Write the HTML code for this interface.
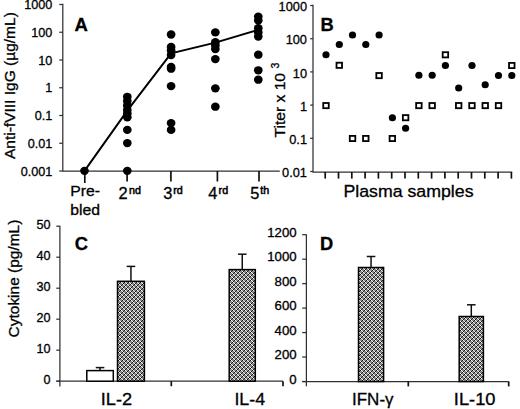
<!DOCTYPE html>
<html><head><meta charset="utf-8">
<style>
html,body{margin:0;padding:0;background:#fff;}
svg{display:block;}
text{font-family:"Liberation Sans",sans-serif;fill:#000;stroke:#000;stroke-width:0.3px;}
.ax{stroke:#303030;stroke-width:1.25;}
.tick{stroke:#111;stroke-width:1.7;}
.eb{stroke:#111;stroke-width:1.5;}
.sup{stroke-width:0.5px;}
</style></head><body>
<svg width="520" height="409" viewBox="0 0 520 409">
<defs>
<pattern id="hatch" x="0" y="1" width="4" height="4" patternUnits="userSpaceOnUse">
<rect width="4" height="4" fill="#8a8a8a"/>
<path d="M0 0h1v1h-1zM1 1h1v1h-1zM2 2h1v1h-1zM3 3h1v1h-1z" fill="#f6f6f6"/>
<path d="M1 0h1v1h-1zM0 1h1v1h-1zM3 2h1v1h-1zM2 3h1v1h-1z" fill="#141414"/>
</pattern>
</defs>
<line x1="62.8" y1="3.8" x2="62.8" y2="171.5" class="ax"/>
<line x1="59.3" y1="4.50" x2="62.8" y2="4.50" class="ax"/>
<text class="t" transform="translate(52.4,9.0) scale(1.02,1.0)" font-size="12.4" text-anchor="end">1000</text>
<line x1="59.3" y1="32.25" x2="62.8" y2="32.25" class="ax"/>
<text class="t" transform="translate(52.4,36.75) scale(1.02,1.0)" font-size="12.4" text-anchor="end">100</text>
<line x1="59.3" y1="60.00" x2="62.8" y2="60.00" class="ax"/>
<text class="t" transform="translate(52.4,64.5) scale(1.02,1.0)" font-size="12.4" text-anchor="end">10</text>
<line x1="59.3" y1="87.75" x2="62.8" y2="87.75" class="ax"/>
<text class="t" transform="translate(52.4,92.25) scale(1.02,1.0)" font-size="12.4" text-anchor="end">1</text>
<line x1="59.3" y1="115.50" x2="62.8" y2="115.50" class="ax"/>
<text class="t" transform="translate(52.4,120.0) scale(1.02,1.0)" font-size="12.4" text-anchor="end">0.1</text>
<line x1="59.3" y1="143.25" x2="62.8" y2="143.25" class="ax"/>
<text class="t" transform="translate(52.4,147.75) scale(1.02,1.0)" font-size="12.4" text-anchor="end">0.01</text>
<line x1="59.3" y1="171.00" x2="62.8" y2="171.00" class="ax"/>
<text class="t" transform="translate(52.4,175.5) scale(1.02,1.0)" font-size="12.4" text-anchor="end">0.001</text>
<line x1="62.8" y1="171.0" x2="279.8" y2="171.0" class="ax"/>
<line x1="84.8" y1="171.0" x2="84.8" y2="183" class="tick"/>
<line x1="127.1" y1="171.0" x2="127.1" y2="181.5" class="tick"/>
<line x1="170.9" y1="171.0" x2="170.9" y2="181.5" class="tick"/>
<line x1="217.4" y1="171.0" x2="217.4" y2="181.5" class="tick"/>
<line x1="259.0" y1="171.0" x2="259.0" y2="181.5" class="tick"/>
<polyline fill="none" stroke="#000" stroke-width="2" points="84.5,170.85 127.3,110.7 171.1,53.3 215.35,42.6 258.3,29.9"/>
<ellipse cx="84.5" cy="170.85" rx="4.35" ry="4.15"/>
<ellipse cx="127.3" cy="96.8" rx="4.35" ry="4.15"/>
<ellipse cx="127.3" cy="101" rx="4.35" ry="4.15"/>
<ellipse cx="127.3" cy="105.5" rx="4.35" ry="4.15"/>
<ellipse cx="127.3" cy="110" rx="4.35" ry="4.15"/>
<ellipse cx="127.3" cy="113.5" rx="4.35" ry="4.15"/>
<ellipse cx="127.3" cy="117.3" rx="4.35" ry="4.15"/>
<ellipse cx="127.3" cy="129.9" rx="4.35" ry="4.15"/>
<ellipse cx="127.3" cy="143.1" rx="4.35" ry="4.15"/>
<ellipse cx="127.3" cy="170.85" rx="4.35" ry="4.15"/>
<ellipse cx="171.1" cy="34.5" rx="4.35" ry="4.15"/>
<ellipse cx="171.1" cy="46.9" rx="4.35" ry="4.15"/>
<ellipse cx="171.1" cy="50.5" rx="4.35" ry="4.15"/>
<ellipse cx="171.1" cy="55" rx="4.35" ry="4.15"/>
<ellipse cx="171.1" cy="66.9" rx="4.35" ry="4.15"/>
<ellipse cx="171.1" cy="68.7" rx="4.35" ry="4.15"/>
<ellipse cx="171.1" cy="86.1" rx="4.35" ry="4.15"/>
<ellipse cx="171.1" cy="123.1" rx="4.35" ry="4.15"/>
<ellipse cx="171.1" cy="129.9" rx="4.35" ry="4.15"/>
<ellipse cx="215.35" cy="32.4" rx="4.35" ry="4.15"/>
<ellipse cx="215.35" cy="42.2" rx="4.35" ry="4.15"/>
<ellipse cx="215.35" cy="45.5" rx="4.35" ry="4.15"/>
<ellipse cx="215.35" cy="49.1" rx="4.35" ry="4.15"/>
<ellipse cx="215.35" cy="59.1" rx="4.35" ry="4.15"/>
<ellipse cx="215.35" cy="88.35" rx="4.35" ry="4.15"/>
<ellipse cx="215.35" cy="106.7" rx="4.35" ry="4.15"/>
<ellipse cx="258.3" cy="16.6" rx="4.35" ry="4.15"/>
<ellipse cx="258.3" cy="20.4" rx="4.35" ry="4.15"/>
<ellipse cx="258.3" cy="28.2" rx="4.35" ry="4.15"/>
<ellipse cx="258.3" cy="32.4" rx="4.35" ry="4.15"/>
<ellipse cx="258.3" cy="36.6" rx="4.35" ry="4.15"/>
<ellipse cx="258.3" cy="54.7" rx="4.35" ry="4.15"/>
<ellipse cx="258.3" cy="70.3" rx="4.35" ry="4.15"/>
<ellipse cx="258.3" cy="79.7" rx="4.35" ry="4.15"/>
<text class="t" transform="translate(74.6,30.5) scale(1.0,1.0)" font-size="18.5" font-weight="bold">A</text>
<text class="t" transform="translate(15.0,159.1) rotate(-90) scale(1.05,1.0)" font-size="14.8">Anti-fVIII IgG (µg/mL)</text>
<text class="t" transform="translate(70.2,196.3) scale(1.05,1.0)" font-size="15">Pre-</text>
<text class="t" transform="translate(70.2,215.0) scale(1.07,1.0)" font-size="14.7">bled</text>
<text class="t" transform="translate(118.4,198.6) scale(1.04,1.0)" font-size="15.8">2</text>
<text class="t sup" transform="translate(129.0,193.6) scale(1.05,1.0)" font-size="10.2">nd</text>
<text class="t" transform="translate(163.2,198.6) scale(1.04,1.0)" font-size="15.8">3</text>
<text class="t sup" transform="translate(173.2,193.6) scale(1.05,1.0)" font-size="10.2">rd</text>
<text class="t" transform="translate(208.3,198.6) scale(1.04,1.0)" font-size="15.8">4</text>
<text class="t sup" transform="translate(218.6,193.6) scale(1.05,1.0)" font-size="10.2">rd</text>
<text class="t" transform="translate(250.2,198.6) scale(1.04,1.0)" font-size="15.8">5</text>
<text class="t sup" transform="translate(260.2,193.6) scale(1.05,1.0)" font-size="10.2">th</text>
<line x1="313" y1="4.8" x2="313" y2="172.5" class="ax"/>
<line x1="310.2" y1="5.50" x2="313" y2="5.50" class="ax"/>
<text class="t" transform="translate(307.0,11.1) scale(1.0,1.0)" font-size="12.8" text-anchor="end">1000</text>
<line x1="310.2" y1="38.70" x2="313" y2="38.70" class="ax"/>
<text class="t" transform="translate(307.0,44.3) scale(1.0,1.0)" font-size="12.8" text-anchor="end">100</text>
<line x1="310.2" y1="71.90" x2="313" y2="71.90" class="ax"/>
<text class="t" transform="translate(307.0,77.5) scale(1.0,1.0)" font-size="12.8" text-anchor="end">10</text>
<line x1="310.2" y1="105.10" x2="313" y2="105.10" class="ax"/>
<text class="t" transform="translate(307.0,110.7) scale(1.0,1.0)" font-size="12.8" text-anchor="end">1</text>
<line x1="310.2" y1="138.30" x2="313" y2="138.30" class="ax"/>
<text class="t" transform="translate(307.0,143.9) scale(1.0,1.0)" font-size="12.8" text-anchor="end">0.1</text>
<line x1="310.2" y1="171.50" x2="313" y2="171.50" class="ax"/>
<text class="t" transform="translate(307.0,177.1) scale(1.0,1.0)" font-size="12.8" text-anchor="end">0.01</text>
<line x1="313" y1="172" x2="512.2" y2="172" class="ax"/>
<line x1="325.2" y1="172" x2="325.2" y2="178.6" class="tick"/>
<line x1="338.5" y1="172" x2="338.5" y2="178.6" class="tick"/>
<line x1="351.8" y1="172" x2="351.8" y2="178.6" class="tick"/>
<line x1="365.1" y1="172" x2="365.1" y2="178.6" class="tick"/>
<line x1="378.4" y1="172" x2="378.4" y2="178.6" class="tick"/>
<line x1="391.7" y1="172" x2="391.7" y2="178.6" class="tick"/>
<line x1="405.0" y1="172" x2="405.0" y2="178.6" class="tick"/>
<line x1="418.3" y1="172" x2="418.3" y2="178.6" class="tick"/>
<line x1="431.6" y1="172" x2="431.6" y2="178.6" class="tick"/>
<line x1="444.9" y1="172" x2="444.9" y2="178.6" class="tick"/>
<line x1="458.2" y1="172" x2="458.2" y2="178.6" class="tick"/>
<line x1="471.5" y1="172" x2="471.5" y2="178.6" class="tick"/>
<line x1="484.8" y1="172" x2="484.8" y2="178.6" class="tick"/>
<line x1="498.1" y1="172" x2="498.1" y2="178.6" class="tick"/>
<line x1="511.4" y1="172" x2="511.4" y2="178.6" class="tick"/>
<ellipse cx="326.0" cy="54.8" rx="3.6" ry="3.5"/>
<ellipse cx="339.3" cy="44.4" rx="3.6" ry="3.5"/>
<ellipse cx="352.5" cy="35" rx="3.6" ry="3.5"/>
<ellipse cx="365.8" cy="44.4" rx="3.6" ry="3.5"/>
<ellipse cx="379.1" cy="35" rx="3.6" ry="3.5"/>
<ellipse cx="392.4" cy="117.7" rx="3.6" ry="3.5"/>
<ellipse cx="405.6" cy="128.3" rx="3.6" ry="3.5"/>
<ellipse cx="418.9" cy="75.3" rx="3.6" ry="3.5"/>
<ellipse cx="432.2" cy="75.3" rx="3.6" ry="3.5"/>
<ellipse cx="445.4" cy="65.4" rx="3.6" ry="3.5"/>
<ellipse cx="458.7" cy="88" rx="3.6" ry="3.5"/>
<ellipse cx="472.0" cy="65.4" rx="3.6" ry="3.5"/>
<ellipse cx="485.2" cy="84.8" rx="3.6" ry="3.5"/>
<ellipse cx="498.5" cy="75.4" rx="3.6" ry="3.5"/>
<ellipse cx="511.8" cy="75.4" rx="3.6" ry="3.5"/>
<rect x="323.25" y="103.00" width="5.5" height="5.2" fill="none" stroke="#000" stroke-width="1.8"/>
<rect x="336.52" y="62.70" width="5.5" height="5.2" fill="none" stroke="#000" stroke-width="1.8"/>
<rect x="349.79" y="135.90" width="5.5" height="5.2" fill="none" stroke="#000" stroke-width="1.8"/>
<rect x="363.06" y="135.90" width="5.5" height="5.2" fill="none" stroke="#000" stroke-width="1.8"/>
<rect x="376.33" y="73.00" width="5.5" height="5.2" fill="none" stroke="#000" stroke-width="1.8"/>
<rect x="389.60" y="135.90" width="5.5" height="5.2" fill="none" stroke="#000" stroke-width="1.8"/>
<rect x="402.87" y="115.10" width="5.5" height="5.2" fill="none" stroke="#000" stroke-width="1.8"/>
<rect x="416.14" y="103.00" width="5.5" height="5.2" fill="none" stroke="#000" stroke-width="1.8"/>
<rect x="429.41" y="103.00" width="5.5" height="5.2" fill="none" stroke="#000" stroke-width="1.8"/>
<rect x="442.68" y="52.20" width="5.5" height="5.2" fill="none" stroke="#000" stroke-width="1.8"/>
<rect x="455.95" y="103.00" width="5.5" height="5.2" fill="none" stroke="#000" stroke-width="1.8"/>
<rect x="469.22" y="103.00" width="5.5" height="5.2" fill="none" stroke="#000" stroke-width="1.8"/>
<rect x="482.49" y="103.00" width="5.5" height="5.2" fill="none" stroke="#000" stroke-width="1.8"/>
<rect x="495.76" y="103.00" width="5.5" height="5.2" fill="none" stroke="#000" stroke-width="1.8"/>
<rect x="509.03" y="62.90" width="5.5" height="5.2" fill="none" stroke="#000" stroke-width="1.8"/>
<text class="t" transform="translate(320.6,30.5) scale(1.0,1.0)" font-size="18.3" font-weight="bold">B</text>
<text class="t" transform="translate(285.0,137.4) rotate(-90) scale(1.04,1.0)" font-size="15.0">Titer x 10</text>
<text class="t" transform="translate(279.2,68.4) rotate(-90) scale(1.05,1.0)" font-size="10">3</text>
<text class="t" transform="translate(343.4,196.9) scale(1.057,1.0)" font-size="16.8">Plasma samples</text>
<line x1="59.9" y1="225.8" x2="59.9" y2="386.5" class="ax"/>
<line x1="56.3" y1="226.20" x2="59.9" y2="226.20" class="ax"/>
<text class="t" transform="translate(50.6,228.6) scale(1.05,1.0)" font-size="12.0" text-anchor="end">50</text>
<line x1="56.3" y1="257.20" x2="59.9" y2="257.20" class="ax"/>
<text class="t" transform="translate(50.6,259.6) scale(1.05,1.0)" font-size="12.0" text-anchor="end">40</text>
<line x1="56.3" y1="288.20" x2="59.9" y2="288.20" class="ax"/>
<text class="t" transform="translate(50.6,290.6) scale(1.05,1.0)" font-size="12.0" text-anchor="end">30</text>
<line x1="56.3" y1="319.20" x2="59.9" y2="319.20" class="ax"/>
<text class="t" transform="translate(50.6,321.6) scale(1.05,1.0)" font-size="12.0" text-anchor="end">20</text>
<line x1="56.3" y1="350.20" x2="59.9" y2="350.20" class="ax"/>
<text class="t" transform="translate(50.6,352.6) scale(1.05,1.0)" font-size="12.0" text-anchor="end">10</text>
<line x1="56.3" y1="381.20" x2="59.9" y2="381.20" class="ax"/>
<text class="t" transform="translate(50.6,383.6) scale(1.05,1.0)" font-size="12.0" text-anchor="end">0</text>
<line x1="56.3" y1="381.2" x2="283" y2="381.2" class="ax"/>
<line x1="171.3" y1="381.2" x2="171.3" y2="386.2" class="tick"/>
<line x1="283" y1="381.2" x2="283" y2="386.2" class="tick"/>
<line x1="100.05" y1="370.6" x2="100.05" y2="367.6" class="eb"/>
<line x1="95.75" y1="367.6" x2="104.35" y2="367.6" class="eb"/>
<rect x="86.8" y="370.6" width="26.50" height="10.60" fill="#fff" stroke="#000" stroke-width="1.5"/>
<line x1="130.95" y1="281.3" x2="130.95" y2="266.4" class="eb"/>
<line x1="126.65" y1="266.4" x2="135.25" y2="266.4" class="eb"/>
<rect x="117.5" y="281.3" width="26.90" height="99.90" fill="url(#hatch)" stroke="#000" stroke-width="1.5"/>
<line x1="242.25" y1="269.6" x2="242.25" y2="254.2" class="eb"/>
<line x1="237.95" y1="254.2" x2="246.55" y2="254.2" class="eb"/>
<rect x="229.2" y="269.6" width="26.10" height="111.60" fill="url(#hatch)" stroke="#000" stroke-width="1.5"/>
<text class="t" transform="translate(74.8,249.7) scale(1.0,1.0)" font-size="18.3" font-weight="bold">C</text>
<text class="t" transform="translate(18.6,337.4) rotate(-90) scale(1.06,1.0)" font-size="14.6">Cytokine (pg/mL)</text>
<text class="t" transform="translate(100.8,404.6) scale(1.05,1.0)" font-size="17.3">IL-2</text>
<text class="t" transform="translate(234.4,404.6) scale(1.03,1.0)" font-size="17.3">IL-4</text>
<line x1="306.4" y1="234.3" x2="306.4" y2="386.3" class="ax"/>
<line x1="302.2" y1="234.70" x2="306.4" y2="234.70" class="ax"/>
<text class="t" transform="translate(296.6,237.0) scale(1.1,1.0)" font-size="12.0" text-anchor="end">1200</text>
<line x1="302.2" y1="259.17" x2="306.4" y2="259.17" class="ax"/>
<text class="t" transform="translate(296.6,261.47) scale(1.1,1.0)" font-size="12.0" text-anchor="end">1000</text>
<line x1="302.2" y1="283.64" x2="306.4" y2="283.64" class="ax"/>
<text class="t" transform="translate(296.6,285.94) scale(1.1,1.0)" font-size="12.0" text-anchor="end">800</text>
<line x1="302.2" y1="308.10" x2="306.4" y2="308.10" class="ax"/>
<text class="t" transform="translate(296.6,310.4) scale(1.1,1.0)" font-size="12.0" text-anchor="end">600</text>
<line x1="302.2" y1="332.57" x2="306.4" y2="332.57" class="ax"/>
<text class="t" transform="translate(296.6,334.87) scale(1.1,1.0)" font-size="12.0" text-anchor="end">400</text>
<line x1="302.2" y1="357.03" x2="306.4" y2="357.03" class="ax"/>
<text class="t" transform="translate(296.6,359.33) scale(1.1,1.0)" font-size="12.0" text-anchor="end">200</text>
<line x1="302.2" y1="381.50" x2="306.4" y2="381.50" class="ax"/>
<text class="t" transform="translate(296.6,383.8) scale(1.1,1.0)" font-size="12.0" text-anchor="end">0</text>
<line x1="302.2" y1="381.5" x2="508.7" y2="381.5" class="ax"/>
<line x1="408.3" y1="381.5" x2="408.3" y2="386.4" class="tick"/>
<line x1="508.7" y1="381.5" x2="508.7" y2="386.4" class="tick"/>
<line x1="371.05" y1="267.5" x2="371.05" y2="256.5" class="eb"/>
<line x1="366.75" y1="256.5" x2="375.35" y2="256.5" class="eb"/>
<rect x="358.5" y="267.5" width="25.10" height="114.00" fill="url(#hatch)" stroke="#000" stroke-width="1.5"/>
<line x1="471.30" y1="316.5" x2="471.30" y2="304.8" class="eb"/>
<line x1="467.00" y1="304.8" x2="475.60" y2="304.8" class="eb"/>
<rect x="459.2" y="316.5" width="24.20" height="65.00" fill="url(#hatch)" stroke="#000" stroke-width="1.5"/>
<text class="t" transform="translate(320.0,249.8) scale(1.0,1.0)" font-size="18.3" font-weight="bold">D</text>
<text class="t" transform="translate(352.0,404.6) scale(1.0,1.0)" font-size="17.0">IFN-γ</text>
<text class="t" transform="translate(453.8,404.6) scale(1.06,1.0)" font-size="17.3">IL-10</text>
</svg>
</body></html>
